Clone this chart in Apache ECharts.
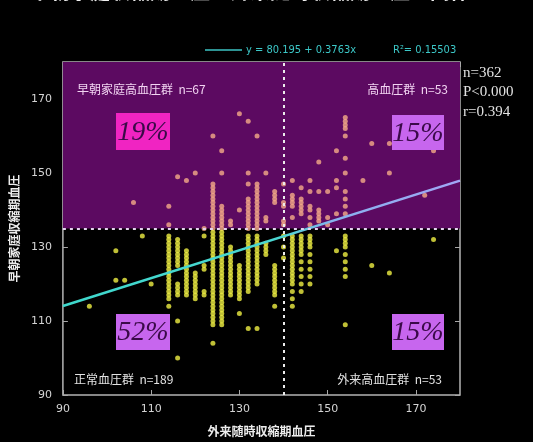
<!DOCTYPE html>
<html>
<head>
<meta charset="utf-8">
<script src="https://cdn.jsdelivr.net/npm/echarts@6/dist/echarts.min.js"></script>
<style>
  html, body { margin: 0; padding: 0; background: #000; }
  #chart { width: 533px; height: 442px; }
</style>
</head>
<body>
<div id="chart"></div>
<script>
// Office (clinic) systolic BP columns, and the morning home systolic BP readings at each
const officeSBP = [96, 102, 104, 106, 108, 110, 114, 116, 118, 120, 122, 124, 126, 128, 130, 132, 134, 136, 138,
  140, 142, 144, 146, 148, 150, 152, 154, 158, 160, 164, 172, 174];
const homeSBP = [
  [114],
  [129, 121],
  [121],
  [142],
  [133],
  [120],
  [141, 136, 133, 132, 131, 130, 129, 128, 127, 126, 125, 124, 123, 122, 121, 120, 119, 118, 117, 116, 114],
  [149, 132, 131, 130, 129, 128, 127, 126, 125, 120, 119, 118, 117, 110, 100],
  [148, 129, 128, 127, 126, 125, 124, 123, 122, 121, 120, 119, 118, 117],
  [150, 123, 122, 121, 120, 119, 118, 117, 116],
  [135, 133, 125, 124, 118, 117],
  [160, 147, 146, 145, 144, 143, 142, 141, 140, 139, 138, 137, 136, 135, 134, 133, 132, 131, 130, 129, 128, 127,
   126, 125, 124, 123, 122, 121, 120, 119, 118, 117, 116, 115, 114, 113, 112, 111, 110, 109, 104],
  [156, 150, 141, 140, 139, 138, 137, 136, 135, 134, 133, 132, 131, 130, 129, 128, 127, 126, 125, 124, 123, 122,
   121, 120, 119, 118, 117, 116, 115, 114, 113, 112, 111, 110, 109],
  [137, 136, 130, 129, 128, 127, 126, 125, 124, 123, 122, 121, 120, 119, 118, 117],
  [166, 140, 125, 124, 123, 122, 121, 120, 119, 118, 117, 116, 112],
  [164, 150, 147, 143, 142, 141, 140, 139, 138, 137, 136, 135, 133, 132, 131, 130, 129, 128, 127, 126, 125, 124,
   123, 122, 121, 120, 119, 118, 108],
  [160, 147, 146, 145, 144, 143, 142, 141, 140, 139, 138, 137, 136, 135, 133, 132, 131, 130, 129, 128, 127, 126,
   125, 124, 123, 122, 121, 120, 108],
  [150, 138, 137, 131, 130, 129, 128],
  [145, 144, 143, 142, 125, 124, 123, 122, 121, 120, 119, 118, 117, 114],
  [147, 142, 141, 137, 136, 133, 130, 127],
  [148, 144, 143, 142, 141, 138, 133, 132, 131, 130, 129, 128, 127, 126, 125, 124, 123, 122, 121, 120, 118, 116, 114],
  [146, 143, 142, 141, 140, 139, 133, 132, 131, 130, 129, 128, 126, 124, 122, 120, 118],
  [148, 145, 141, 140, 138, 136, 133, 132, 131, 130, 128, 126, 124, 122, 120],
  [153, 145, 140, 139, 138, 137],
  [145, 138, 136],
  [156, 148, 146, 139, 129],
  [165, 164, 163, 162, 160, 154, 150, 145, 143, 141, 139, 133, 132, 131, 130, 128, 126, 124, 122, 109],
  [148],
  [158, 125],
  [158, 150, 123],
  [144],
  [156, 132]
];

// Diagnostic thresholds (mmHg)
const homeCut = 135;
const officeCut = 140;

// Regression line and statistics
const intercept = 80.195;
const slope = 0.3763;
const rSquared = '0.15503';
const statLines = ['n=362', 'P<0.000', 'r=0.394'];

// Axis ticks
const axisMin = 90, axisMax = 180, axisStep = 20;

// Quadrant captions and shares
const quadrantNames = ['早朝家庭高血圧群  n=67', '高血圧群  n=53', '正常血圧群  n=189', '外来高血圧群  n=53'];
const quadrantShares = ['19%', '15%', '52%', '15%'];

const points = [];
officeSBP.forEach((x, i) => homeSBP[i].forEach(y => points.push([x, y])));

const chart = echarts.init(document.getElementById('chart'), null, { renderer: 'canvas' });

const axisCommon = {
  type: 'value', min: axisMin, max: axisMax, interval: axisStep,
  splitLine: { show: false },
  axisLine: { show: false },
  axisTick: { show: true, inside: true, length: 5, lineStyle: { color: '#a8a8a8', width: 1 } }
};
const tickLabel = { color: '#d4d4d4', fontSize: 11, fontFamily: 'DejaVu Sans', showMaxLabel: false };

// a coloured box holding a quadrant's share
function shareBox(x, y, w, h, fill, text) {
  return { type: 'group', x: x, y: y, z: 20, children: [
    { type: 'rect', z: 20, shape: { width: w, height: h }, style: { fill: fill } },
    { type: 'text', z: 21, x: w / 2, y: h / 2 + 1, style: { text: text, fill: '#3a0a48', fontSize: 28,
      fontStyle: 'italic', fontFamily: 'Liberation Serif', textAlign: 'center', textVerticalAlign: 'middle' } }
  ] };
}

const option = {
  backgroundColor: '#000',
  animation: false,
  grid: { left: 57, right: 73, top: 62, bottom: 43, show: true, borderColor: '#b4b4b4', borderWidth: 1.5,
          backgroundColor: 'transparent' },
  xAxis: [
    Object.assign({}, axisCommon, {
      position: 'bottom',
      axisLabel: Object.assign({}, tickLabel, { margin: 9 }),
      name: '外来随時収縮期血圧', nameLocation: 'middle', nameGap: 30,
      nameTextStyle: { color: '#ececec', fontSize: 12, fontWeight: 'bold', fontFamily: 'Noto Sans CJK JP' }
    }),
    Object.assign({}, axisCommon, { position: 'top', axisLabel: { show: false } })
  ],
  yAxis: [
    Object.assign({}, axisCommon, {
      position: 'left',
      axisLabel: Object.assign({}, tickLabel, { margin: 11 }),
      name: '早朝家庭収縮期血圧', nameLocation: 'middle', nameGap: 33, nameRotate: 90,
      nameTextStyle: { color: '#ececec', fontSize: 12, fontWeight: 'bold', fontFamily: 'Noto Sans CJK JP' }
    }),
    Object.assign({}, axisCommon, { position: 'right', axisLabel: { show: false } })
  ],
  series: [
    {
      // purple band for home hypertension (home SBP >= 135)
      type: 'scatter', data: [], z: 1, silent: true,
      markArea: {
        silent: true,
        itemStyle: { color: '#5c0a61' },
        data: [[{ xAxis: axisMin, yAxis: homeCut }, { xAxis: axisMax, yAxis: axisMax }]]
      }
    },
    {
      type: 'scatter', data: points, z: 2, symbolSize: 5,
      itemStyle: {
        color: p => (p.value[1] >= homeCut ? '#f5ab88' : '#f0f044')
      }
    },
    {
      // threshold lines
      type: 'scatter', data: [], z: 3, silent: true,
      markLine: {
        silent: true, symbol: 'none', label: { show: false },
        lineStyle: { type: [3, 4], width: 2 },
        data: [
          [{ coord: [axisMin, homeCut], lineStyle: { color: '#e6d2f0' } }, { coord: [axisMax, homeCut] }],
          [{ coord: [officeCut, axisMin], lineStyle: { color: '#ececec' } }, { coord: [officeCut, axisMax] }]
        ]
      }
    },
    {
      type: 'line', z: 4, showSymbol: false, silent: true,
      data: [[axisMin, intercept + slope * axisMin], [axisMax, intercept + slope * axisMax]],
      lineStyle: {
        width: 2.5,
        color: new echarts.graphic.LinearGradient(0, 0, 1, 0, [
          { offset: 0, color: '#3ed8cc' },
          { offset: 0.55, color: '#4ad6d2' },
          { offset: 0.68, color: '#88b2ee' },
          { offset: 1, color: '#a2a6f6' }
        ])
      }
    }
  ],
  graphic: [
    // partially visible heading
    { type: 'text', left: 30, top: -19, z: 10,
      style: { text: '早朝家庭収縮期血圧と外来随時収縮期血圧の関係', fill: '#f0f0f0', fontSize: 20,
               fontFamily: 'Noto Sans CJK JP', fontWeight: 'bold' } },
    // regression legend
    { type: 'line', z: 10, shape: { x1: 205, y1: 50, x2: 242, y2: 50 }, style: { stroke: '#3cc4c4', lineWidth: 1.5 } },
    { type: 'text', x: 246, y: 50, z: 10,
      style: { text: 'y = ' + intercept + ' + ' + slope + 'x', fill: '#3cc8c8', fontSize: 11,
               fontFamily: 'DejaVu Sans Condensed', textVerticalAlign: 'middle' } },
    { type: 'text', x: 393, y: 50, z: 10,
      style: { text: 'R\u00b2= ' + rSquared, fill: '#3cc8c8', fontSize: 11,
               fontFamily: 'DejaVu Sans Condensed', textVerticalAlign: 'middle' } },
    // statistics
    { type: 'text', x: 463, y: 63, z: 10,
      style: { text: statLines.join('\n'), fill: '#e2e2e2', fontSize: 15, lineHeight: 19.5,
               fontFamily: 'Liberation Serif' } },
    // quadrant captions
    { type: 'text', x: 77, y: 89, z: 10,
      style: { text: quadrantNames[0], fill: '#f2d4f2', fontSize: 12, fontFamily: 'Noto Sans CJK JP', textVerticalAlign: 'middle' } },
    { type: 'text', x: 448, y: 89, z: 10,
      style: { text: quadrantNames[1], fill: '#f2d4f2', fontSize: 12, fontFamily: 'Noto Sans CJK JP', textAlign: 'right', textVerticalAlign: 'middle' } },
    { type: 'text', x: 74, y: 379, z: 10,
      style: { text: quadrantNames[2], fill: '#e2e2e2', fontSize: 12, fontFamily: 'Noto Sans CJK JP', textVerticalAlign: 'middle' } },
    { type: 'text', x: 442, y: 379, z: 10,
      style: { text: quadrantNames[3], fill: '#e2e2e2', fontSize: 12, fontFamily: 'Noto Sans CJK JP', textAlign: 'right', textVerticalAlign: 'middle' } },
    // quadrant shares
    shareBox(116, 113, 54, 37, '#f024c2', quadrantShares[0]),
    shareBox(392, 115, 52, 35, '#c766ee', quadrantShares[1]),
    shareBox(116, 314, 54, 36, '#c766ee', quadrantShares[2]),
    shareBox(392, 314, 52, 36, '#c766ee', quadrantShares[3])
  ]
};

chart.setOption(option);
</script>
</body>
</html>
